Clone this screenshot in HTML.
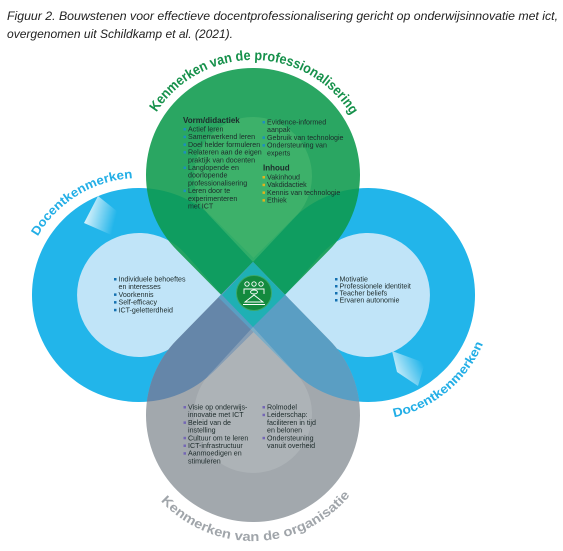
<!DOCTYPE html>
<html><head><meta charset="utf-8"><style>
html,body{margin:0;padding:0;background:#fff;}
svg{display:block;}
.t{font-family:"Liberation Sans",sans-serif;font-size:7.1px;fill:#1d2b2b;}
.b{font-weight:bold;font-size:8px;}
</style></head><body>
<svg width="563" height="551" viewBox="0 0 563 551" xmlns="http://www.w3.org/2000/svg">
<defs>
<linearGradient id="wl" x1="0" y1="0" x2="1" y2="0.3"><stop offset="0" stop-color="#ffffff"/><stop offset="1" stop-color="#22b5ea"/></linearGradient>
<linearGradient id="wr" x1="0" y1="1" x2="1" y2="0.5"><stop offset="0" stop-color="#ffffff"/><stop offset="1" stop-color="#22b5ea"/></linearGradient>
<path id="pg" d="M156.5 112.4 A115 115 0 0 1 352.6 117.5"/>
<path id="pl" d="M37.7 236.5 A117 117 0 0 1 134.9 178.1"/>
<path id="pr" d="M394 417.3 A125 125 0 0 0 483.9 341.8"/>
<path id="po" d="M160.8 500.9 A126 126 0 0 0 352.3 492.6"/>
<clipPath id="cgray"><path d="M253 262 L329 339.7 A107 107 0 1 1 177 339.7 Z"/></clipPath>
</defs>
<text x="7" y="20" font-family="Liberation Sans, sans-serif" font-style="italic" font-size="12" fill="#222" textLength="551" lengthAdjust="spacingAndGlyphs">Figuur 2. Bouwstenen voor effectieve docentprofessionalisering gericht op onderwijsinnovatie met ict,</text>
<text x="7" y="38" font-family="Liberation Sans, sans-serif" font-style="italic" font-size="12" fill="#222" textLength="226" lengthAdjust="spacingAndGlyphs">overgenomen uit Schildkamp et al. (2021).</text>

<!-- blue drops -->
<path d="M291 295 L214.3 371 A107 107 0 1 1 214.3 219 Z" fill="#22b5ea"/>
<path d="M216 295 L292.7 219 A107 107 0 1 1 292.7 371 Z" fill="#22b5ea"/>
<polygon points="98,196 84,223 116,237 118,212" fill="url(#wl)"/>
<polygon points="392,351 425,363 418,386 397,372" fill="url(#wr)"/>
<path d="M222 295 L185.3 336.3 A62 62 0 1 1 185.3 253.7 Z" fill="#c0e4f8"/>
<path d="M285 295 L321.7 253.7 A62 62 0 1 1 321.7 336.3 Z" fill="#c0e4f8"/>
<!-- green -->
<path d="M253 327 L177 250.3 A107 107 0 1 1 329 250.3 Z" fill="#0d9a4c" opacity="0.88"/>
<path d="M253 262 L212.5 218.9 A59 59 0 1 1 293.5 218.9 Z" fill="#4cb971" opacity="0.55"/>
<!-- gray -->
<path d="M253 262 L329 339.7 A107 107 0 1 1 177 339.7 Z" fill="#a2a8ad"/>
<g clip-path="url(#cgray)">
<path d="M291 295 L214.3 371 A107 107 0 1 1 214.3 219 Z" fill="#6586a9"/>
<path d="M216 295 L292.7 219 A107 107 0 1 1 292.7 371 Z" fill="#5a9ec3"/>
</g>
<path d="M253 327 L293 370.6 A59 59 0 1 1 213 370.6 Z" fill="#c4c8cc" opacity="0.35"/>
<polygon points="253,262 285,295 253,327 222,295" fill="#1fb0b4"/>
<!-- icon -->
<circle cx="254" cy="293" r="17.5" fill="#138a3e" stroke="#3aa866" stroke-width="1"/>
<g stroke="#fff" stroke-width="0.9" fill="none">
<circle cx="247" cy="284" r="2.2"/><circle cx="254" cy="284" r="2.2"/><circle cx="261" cy="284" r="2.2"/>
<path d="M244 294 v-5 h20 v5"/><ellipse cx="254" cy="292" rx="3.5" ry="2"/>
<path d="M245 302 L254 295 L263 302 Z"/><line x1="243" y1="304.5" x2="265" y2="304.5"/>
</g>

<!-- arc titles -->
<text font-family="Liberation Sans, sans-serif" font-weight="bold" font-size="14" fill="#15904a"><textPath href="#pg" textLength="232" lengthAdjust="spacingAndGlyphs">Kenmerken van de professionalisering</textPath></text>
<text font-family="Liberation Sans, sans-serif" font-weight="bold" font-size="12.5" fill="#22aee6"><textPath href="#pl" textLength="116" lengthAdjust="spacingAndGlyphs">Docentkenmerken</textPath></text>
<text font-family="Liberation Sans, sans-serif" font-weight="bold" font-size="12.5" fill="#22aee6"><textPath href="#pr" textLength="120" lengthAdjust="spacingAndGlyphs">Docentkenmerken</textPath></text>
<text font-family="Liberation Sans, sans-serif" font-weight="bold" font-size="13" fill="#a0a5aa"><textPath href="#po" textLength="214" lengthAdjust="spacingAndGlyphs">Kenmerken van de organisatie</textPath></text>

<!-- green lists -->
<g class="t">
<text x="183" y="123" class="b">Vorm/didactiek</text>
<g fill="#1e8fbf">
<rect x="183.5" y="128" width="2.5" height="2.5"/><rect x="183.5" y="135.7" width="2.5" height="2.5"/><rect x="183.5" y="143.4" width="2.5" height="2.5"/><rect x="183.5" y="151.1" width="2.5" height="2.5"/><rect x="183.5" y="166.5" width="2.5" height="2.5"/><rect x="183.5" y="189.6" width="2.5" height="2.5"/>
<rect x="262.5" y="121" width="2.5" height="2.5"/><rect x="262.5" y="136.4" width="2.5" height="2.5"/><rect x="262.5" y="144.1" width="2.5" height="2.5"/>
</g>
<g fill="#e3b21c">
<rect x="262.5" y="176" width="2.5" height="2.5"/><rect x="262.5" y="183.7" width="2.5" height="2.5"/><rect x="262.5" y="191.4" width="2.5" height="2.5"/><rect x="262.5" y="199.1" width="2.5" height="2.5"/>
</g>
<text x="188" y="131.5">Actief leren</text>
<text x="188" y="139.2">Samenwerkend leren</text>
<text x="188" y="146.9">Doel helder formuleren</text>
<text x="188" y="154.6">Relateren aan de eigen</text>
<text x="188" y="162.3">praktijk van docenten</text>
<text x="188" y="170">Langlopende en</text>
<text x="188" y="177.7">doorlopende</text>
<text x="188" y="185.4">professionalisering</text>
<text x="188" y="193.1">Leren door te</text>
<text x="188" y="200.8">experimenteren</text>
<text x="188" y="208.5">met ICT</text>
<text x="267" y="124.5">Evidence-informed</text>
<text x="267" y="132.2">aanpak</text>
<text x="267" y="139.9">Gebruik van technologie</text>
<text x="267" y="147.6">Ondersteuning van</text>
<text x="267" y="155.3">experts</text>
<text x="263" y="170.5" class="b">Inhoud</text>
<text x="267" y="179.5">Vakinhoud</text>
<text x="267" y="187.2">Vakdidactiek</text>
<text x="267" y="194.9">Kennis van technologie</text>
<text x="267" y="202.6">Ethiek</text>

<!-- left / right -->
<g fill="#1470b0">
<rect x="114" y="278" width="2.5" height="2.5"/><rect x="114" y="293.4" width="2.5" height="2.5"/><rect x="114" y="301.1" width="2.5" height="2.5"/><rect x="114" y="308.8" width="2.5" height="2.5"/>
<rect x="335" y="278" width="2.5" height="2.5"/><rect x="335" y="285" width="2.5" height="2.5"/><rect x="335" y="292" width="2.5" height="2.5"/><rect x="335" y="299" width="2.5" height="2.5"/>
</g>
<text x="118.5" y="281.5">Individuele behoeftes</text>
<text x="118.5" y="289.2">en interesses</text>
<text x="118.5" y="296.9">Voorkennis</text>
<text x="118.5" y="304.6">Self-efficacy</text>
<text x="118.5" y="312.3">ICT-geletterdheid</text>
<text x="339.5" y="281.5">Motivatie</text>
<text x="339.5" y="288.5">Professionele identiteit</text>
<text x="339.5" y="295.5">Teacher beliefs</text>
<text x="339.5" y="302.5">Ervaren autonomie</text>

<!-- gray -->
<g fill="#7466b5">
<rect x="183.5" y="406" width="2.5" height="2.5"/><rect x="183.5" y="421.4" width="2.5" height="2.5"/><rect x="183.5" y="436.8" width="2.5" height="2.5"/><rect x="183.5" y="444.5" width="2.5" height="2.5"/><rect x="183.5" y="452.2" width="2.5" height="2.5"/>
<rect x="262.5" y="406" width="2.5" height="2.5"/><rect x="262.5" y="413.7" width="2.5" height="2.5"/><rect x="262.5" y="436.8" width="2.5" height="2.5"/>
</g>
<text x="188" y="409.5">Visie op onderwijs-</text>
<text x="188" y="417.2">innovatie met ICT</text>
<text x="188" y="424.9">Beleid van de</text>
<text x="188" y="432.6">instelling</text>
<text x="188" y="440.3">Cultuur om te leren</text>
<text x="188" y="448">ICT-infrastructuur</text>
<text x="188" y="455.7">Aanmoedigen en</text>
<text x="188" y="463.4">stimuleren</text>
<text x="267" y="409.5">Rolmodel</text>
<text x="267" y="417.2">Leiderschap:</text>
<text x="267" y="424.9">faciliteren in tijd</text>
<text x="267" y="432.6">en belonen</text>
<text x="267" y="440.3">Ondersteuning</text>
<text x="267" y="448">vanuit overheid</text>
</g>
</svg>
</body></html>
